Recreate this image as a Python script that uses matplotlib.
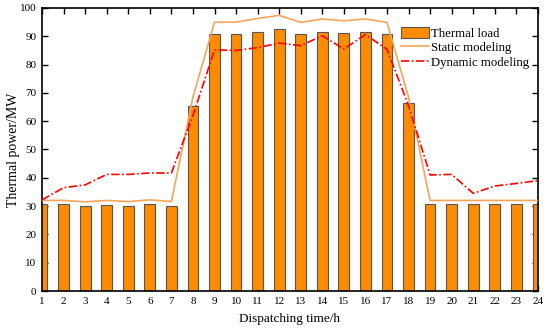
import matplotlib
matplotlib.use("Agg")
import matplotlib.pyplot as plt
import numpy as np

plt.rcParams["font.family"] = ["Liberation Serif", "DejaVu Serif"]

# ---------------------------------------------------------------------------
# Data
# ---------------------------------------------------------------------------
hours = np.arange(1, 25)
thermal_load = [30.6, 30.6, 30.0, 30.4, 30.1, 30.9, 30.1, 65.4, 90.7, 90.7,
                91.5, 92.5, 90.7, 91.5, 91.0, 91.5, 90.7, 66.3, 30.6, 30.6,
                30.6, 30.6, 30.6, 30.6]
static_model = [32.0, 32.0, 31.5, 32.0, 31.6, 32.2, 31.6, 68.5, 95.0, 95.0,
                96.3, 97.4, 94.9, 96.1, 95.5, 96.1, 94.9, 68.5, 32.0, 32.0,
                32.0, 32.0, 32.0, 32.0]
dynamic_model = [32.2, 36.5, 37.5, 41.2, 41.2, 41.7, 41.7, 62.0, 85.2, 85.0,
                 86.0, 87.6, 86.7, 90.2, 85.5, 90.6, 85.4, 65.5, 41.0, 41.2,
                 34.5, 37.1, 38.0, 39.0]

fig = plt.figure(figsize=(5.5, 3.29), dpi=100)
ax = fig.add_axes([0.0764, 0.1155, 0.9016, 0.8602])

bars = ax.bar(hours, thermal_load, width=0.5, color="#FF8C00",
              edgecolor="#555555", linewidth=0.8, label="Thermal load",
              zorder=2)
l_static, = ax.plot(hours, static_model, color="#F5A55A", linewidth=1.2,
                    label="Static modeling", zorder=3)
l_dyn, = ax.plot(hours, dynamic_model, color="#FF0000", linewidth=1.2,
                 linestyle=(0, (5, 1.5, 1, 1.5)), label="Dynamic modeling",
                 zorder=4)

ax.set_xlim(1, 24)
ax.set_ylim(0, 100)
ax.set_xticks(hours)
ax.set_yticks(np.arange(0, 101, 10))
ax.tick_params(direction="in", top=True, right=True, labelsize=8,
               length=4, width=1, pad=4)
for s in ax.spines.values():
    s.set_linewidth(1.2)

ax.set_xlabel("Dispatching time/h", fontsize=9.5, labelpad=5)
ax.set_ylabel("Thermal power/MW", fontsize=10)
ax.yaxis.set_label_coords(-0.044, 0.5)

ax.legend([bars, l_static, l_dyn],
          ["Thermal load", "Static modeling", "Dynamic modeling"],
          loc="upper right", frameon=False, fontsize=9.2,
          bbox_to_anchor=(1.0, 0.965), handlelength=2.2, handleheight=1.0,
          labelspacing=0.1, handletextpad=0.15, borderpad=0.2)

fig.savefig("out.png", dpi=100)
